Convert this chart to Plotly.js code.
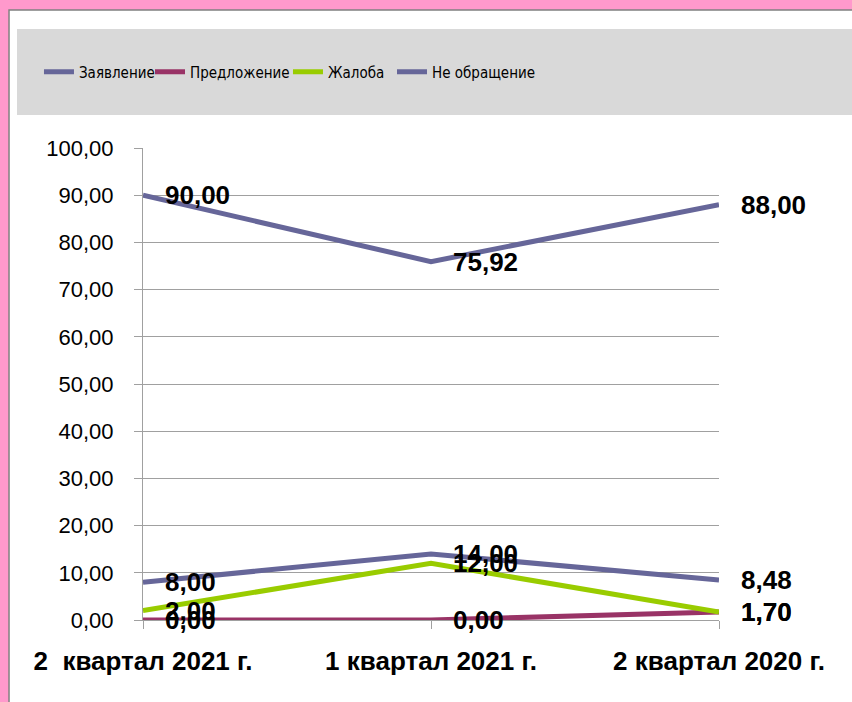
<!DOCTYPE html>
<html>
<head>
<meta charset="utf-8">
<script src="https://cdn.plot.ly/plotly-3.0.1.min.js"></script>
<style>
  html, body { margin: 0; padding: 0; background: #ff99cc; }
  #chart { width: 852px; height: 702px; }
</style>
</head>
<body>
<div id="chart"></div>
<script>
var categories = ['2\u00a0 квартал 2021 г.', '1 квартал 2021 г.', '2 квартал 2020 г.'];
var zayavlenie = [90.00, 75.92, 88.00];
var predlozhenie = [0.00, 0.00, 1.70];
var zhaloba = [2.00, 12.00, 1.70];
var ne_obrashchenie = [8.00, 14.00, 8.48];

var seriesNames = ['Заявление', 'Предложение', 'Жалоба', 'Не обращение'];
var seriesValues = [zayavlenie, predlozhenie, zhaloba, ne_obrashchenie];
var seriesColors = ['#666699', '#993366', '#99cc00', '#666699'];

// each legend item sits in its own legend box
var legendX = [-0.1806, 0.01215, 0.2517, 0.4323];

var font = 'Liberation Sans, Arial, sans-serif';

var data = [];
var annotations = [];
seriesNames.forEach(function (name, k) {
	data.push({
		type: 'scatter',
		mode: 'lines',
		x: categories,
		y: seriesValues[k],
		name: name,
		line: { color: seriesColors[k], width: 5 },
		cliponaxis: false,
		legend: k === 0 ? 'legend' : 'legend' + (k + 1)
	});
	seriesValues[k].forEach(function (v, i) {
		annotations.push({
			x: categories[i],
			y: v,
			xref: 'x', yref: 'y',
			text: v.toFixed(2).replace('.', ','),
			showarrow: false,
			xanchor: 'left',
			yanchor: 'middle',
			xshift: 20,
			font: { family: font, size: 26, color: '#000000', weight: 'bold' }
		});
	});
});

var legendFont = { family: 'DejaVu Sans Condensed, Liberation Sans Narrow, Liberation Sans, sans-serif', size: 15, color: '#000000' };
function makeLegend(x) {
	return {
		orientation: 'h',
		x: x, xanchor: 'left',
		y: 1.161, yanchor: 'middle',
		bgcolor: 'rgba(0,0,0,0)',
		font: legendFont
	};
}

var layout = {
	width: 852,
	height: 702,
	margin: { l: 143, r: 133, t: 148, b: 82 },
	paper_bgcolor: '#ff99cc',
	plot_bgcolor: '#ffffff',
	separators: ', ',
	showlegend: true,
	legend: makeLegend(legendX[0]),
	legend2: makeLegend(legendX[1]),
	legend3: makeLegend(legendX[2]),
	legend4: makeLegend(legendX[3]),
	xaxis: {
		type: 'category',
		range: [0, 2],
		showgrid: false,
		zeroline: false,
		showline: true,
		linecolor: '#a0a0a0',
		linewidth: 1,
		ticks: 'outside',
		ticklen: 8,
		tickcolor: '#a0a0a0',
		ticklabelstandoff: 10,
		tickfont: { family: font, size: 26, color: '#000000', weight: 'bold' }
	},
	yaxis: {
		range: [0, 100],
		dtick: 10,
		tick0: 0,
		tickformat: '.2f',
		showgrid: true,
		gridcolor: '#a0a0a0',
		gridwidth: 1,
		zeroline: false,
		showline: true,
		linecolor: '#a0a0a0',
		ticks: 'outside',
		ticklen: 8,
		tickcolor: '#a0a0a0',
		ticklabelstandoff: 16,
		tickfont: { family: font, size: 22, color: '#000000' }
	},
	annotations: annotations,
	shapes: [
		{
			type: 'rect', xref: 'paper', yref: 'paper', layer: 'below',
			x0: -0.2326, x1: 1.6, y0: -0.5, y1: 1.2924,
			fillcolor: '#ffffff',
			line: { color: '#808080', width: 1.5 }
		},
		{
			type: 'rect', xref: 'paper', yref: 'paper', layer: 'below',
			x0: -0.21875, x1: 1.6, y0: 1.0699, y1: 1.2521,
			fillcolor: '#d9d9d9',
			line: { width: 0 }
		}
	]
};

var config = { staticPlot: true };

Plotly.newPlot('chart', data, layout, config);
</script>
</body>
</html>
